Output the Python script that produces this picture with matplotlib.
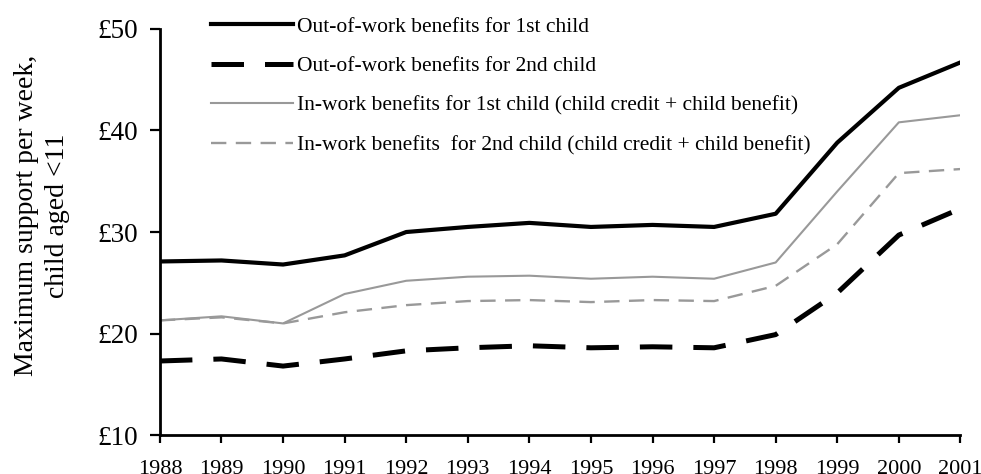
import numpy as np
import matplotlib.pyplot as plt

years = list(range(1988, 2002))
out_1st = [27.1, 27.2, 26.8, 27.7, 30.0, 30.5, 30.9, 30.5, 30.7, 30.5, 31.8, 38.8, 44.2, 46.7]
out_2nd = [17.3, 17.5, 16.8, 17.5, 18.3, 18.6, 18.8, 18.6, 18.7, 18.6, 19.9, 24.0, 29.7, 32.3]
in_1st = [21.3, 21.7, 21.0, 23.9, 25.2, 25.6, 25.7, 25.4, 25.6, 25.4, 27.0, 34.0, 40.8, 41.5]
in_2nd = [21.3, 21.6, 21.0, 22.1, 22.8, 23.2, 23.3, 23.1, 23.3, 23.2, 24.7, 28.8, 35.8, 36.2]

labels = [
    "Out-of-work benefits for 1st child",
    "Out-of-work benefits for 2nd child",
    "In-work benefits for 1st child (child credit + child benefit)",
    "In-work benefits  for 2nd child (child credit + child benefit)",
]
yticks = [10, 20, 30, 40, 50]

plt.rcParams["font.family"] = ["Liberation Serif", "DejaVu Serif"]

fig = plt.figure(figsize=(9.81, 4.74), dpi=100)
ax = fig.add_axes([0.163, 0.082, 0.816, 0.857])

ax.plot(years, out_1st, "-", color="black", lw=3.0, label=labels[0])
ax.plot(years, out_2nd, color="black", lw=3.6, dashes=(6.5, 4.2), label=labels[1])
ax.plot(years, in_1st, "-", color="#999999", lw=1.5, label=labels[2])
ax.plot(years, in_2nd, color="#999999", lw=1.7, dashes=(6.5, 4), label=labels[3])

ax.set_xlim(1988, 2001)
ax.set_ylim(10, 50)
ax.set_xticks(years)
ax.set_xticklabels([str(y) for y in years], fontsize=16)
ax.set_yticks(yticks)
ax.set_yticklabels([f"£{v}" for v in yticks], fontsize=19.5)
ax.tick_params(axis="both", direction="out", width=1.6, color="black")
ax.tick_params(axis="x", length=5.8, pad=12)
ax.tick_params(axis="y", length=7.5, pad=8.5)

for s in ["top", "right"]:
    ax.spines[s].set_visible(False)
for s in ["left", "bottom"]:
    ax.spines[s].set_linewidth(2)

ax.set_ylabel("Maximum support per week,\nchild aged <11", fontsize=20, linespacing=1.3)
ax.yaxis.set_label_coords(-0.1125, 0.54)

ax.legend(loc="upper left", bbox_to_anchor=(0.064, 1.03), frameon=False, fontsize=15.5,
          handlelength=3.8, handletextpad=0.19, labelspacing=0.9,
          borderaxespad=0, borderpad=0)

fig.savefig("out.png", dpi=100)
